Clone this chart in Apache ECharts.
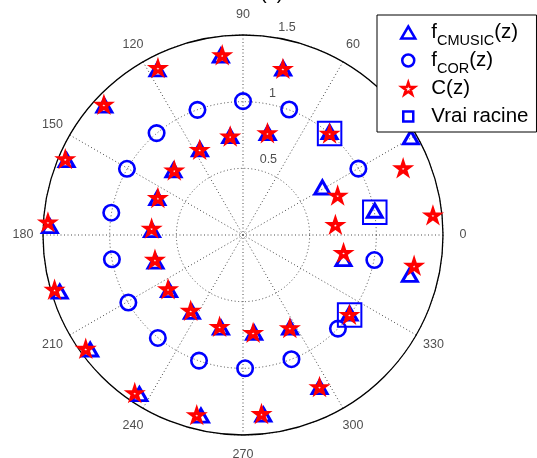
<!DOCTYPE html>
<html>
<head>
<meta charset="utf-8">
<script src="https://cdn.jsdelivr.net/npm/echarts@6/dist/echarts.min.js"></script>
<style>
  html, body { margin: 0; padding: 0; background: #fff; }
  #chart { width: 537px; height: 458px; }
</style>
</head>
<body>
<div id="chart"></div>
<script>
const FONT = '"Liberation Sans", Arial, Helvetica, sans-serif';

// Estimated roots of the CMUSIC function: radius and angle (degrees)
const cmusicRadius = [1.345, 1.388, 1.415, 1.433, 1.450, 1.442, 1.439, 1.434, 1.402, 1.366, 1.287, 1.272, 1.451, 1.289,
                      0.736, 0.775, 0.709, 0.705, 0.695, 0.683, 0.689, 0.698, 0.702, 0.725, 0.749, 0.789, 1.000, 0.688, 1.003, 0.778, 1.000];
const cmusicAngle  = [97.1, 117.5, 137.3, 157.4, 177.8, 197.6, 217.2, 237.2, 257.0, 276.4, 296.5, 76.3, 29.8, 346.1,
                      97.5, 76.2, 117.1, 137.7, 157.6, 177.9, 197.8, 217.4, 236.9, 256.8, 276.4, 296.6, 49.5, 30.1, 9.8, 345.7, 323.1];

// Roots of the correlation function
const corRadius = [1.004, 0.999, 1.002, 1.002, 1.002, 1.000, 0.998, 1.002, 0.998, 1.000, 1.000, 1.000, 1.003, 0.998, 1.003];
const corAngle  = [90, 110, 130.3, 150.3, 170.4, 190.5, 210.5, 230.4, 250.7, 270.9, 291.3, 315.4, 349.2, 29.9, 69.8];

// Roots of C(z)
const cRadius = [1.357, 1.405, 1.429, 1.449, 1.466, 1.472, 1.456, 1.437, 1.395, 1.350, 1.277, 1.281, 1.304, 1.432, 1.301,
                 0.745, 0.785, 0.716, 0.707, 0.696, 0.687, 0.686, 0.694, 0.691, 0.711, 0.738, 0.782, 1.000, 0.769, 0.697, 0.766, 0.998];
const cAngle  = [96.6, 117.0, 136.9, 156.9, 176.3, 196.2, 215.9, 235.6, 255.6, 275.9, 296.7, 76.5, 349.8, 5.9, 22.6,
                 97.4, 76.5, 117.0, 136.8, 156.5, 176.0, 195.7, 215.9, 235.4, 255.7, 275.9, 296.7, 49.5, 22.6, 6.2, 349.9, 323.1];

// True roots
const trueRadius = [1.000, 1.003, 1.000];
const trueAngle  = [49.5, 9.8, 323.1];

// Tick labels
const angleTicks  = [0, 30, 60, 90, 120, 150, 180, 210, 240, 270, 300, 330];
const radialTicks = [0.5, 1, 1.5];

const RMAX = 1.5;
const BLUE = '#0000ff';
const RED = '#ff0000';
const STAR = 'path://M0,-10L2.245,-3.09L9.511,-3.09L3.633,1.18L5.878,8.09L0,3.82L-5.878,8.09L-3.633,1.18L-9.511,-3.09L-2.245,-3.09Z';
const SMALL_SQUARE = 'path://M0,0M14,12M2,1L12,1L12,11L2,11Z';

const zip = (r, a) => r.map((v, i) => [v, a[i]]);

const triStyle  = { color: 'rgba(0,0,0,0)', borderColor: BLUE, borderWidth: 3, borderJoin: 'miter', opacity: 1 };
const circStyle = { color: 'rgba(0,0,0,0)', borderColor: BLUE, borderWidth: 2.6, opacity: 1 };
const starStyle = { color: '#ffffff', borderColor: RED, borderWidth: 3.2, borderJoin: 'miter', borderMiterLimit: 10, opacity: 1 };
const sqStyle   = { color: 'rgba(0,0,0,0)', borderColor: BLUE, borderWidth: 2, borderJoin: 'miter', opacity: 1 };

const legendNames = {
  'f_CMUSIC(z)': '{f|f}{s|CMUSIC}{m|(z)}',
  'f_COR(z)': '{f|f}{s|COR}{m|(z)}',
  'C(z)': '{p|C(z)}',
  'Vrai racine': '{p|Vrai racine}'
};

const chart = echarts.init(document.getElementById('chart'), null, { renderer: 'canvas' });

chart.setOption({
  animation: false,
  backgroundColor: '#fff',
  textStyle: { fontFamily: FONT },
  polar: { center: [243, 235], radius: 200 },
  angleAxis: {
    type: 'value', min: 0, max: 360, interval: 30,
    startAngle: 0, clockwise: false,
    axisLine: { show: true, lineStyle: { color: '#000', width: 1.3 } },
    axisTick: { show: false },
    axisLabel: { show: false },
    splitLine: { show: true, lineStyle: { color: '#4a4a4a', width: 1, type: [1, 2.5] } }
  },
  radiusAxis: {
    type: 'value', min: 0, max: RMAX, interval: 0.5,
    axisLine: { show: false },
    axisTick: { show: false },
    axisLabel: { show: false },
    splitLine: { show: true, lineStyle: { color: '#4a4a4a', width: 1, type: [1, 2.5] } }
  },
  graphic: [{
    type: 'text', left: 260, top: -17, silent: true,
    style: { text: '(z)', font: '20px ' + FONT, fill: '#000' }
  }],
  legend: {
    orient: 'vertical', left: 377, top: 15,
    padding: [2, 8, 0, 23],
    itemWidth: 14, itemHeight: 12, itemGap: -3,
    backgroundColor: '#fff', borderColor: '#000', borderWidth: 1, borderRadius: 0,
    selectedMode: false,
    data: [
      { name: 'f_CMUSIC(z)', icon: 'triangle', itemStyle: { color: 'rgba(0,0,0,0)', borderColor: BLUE, borderWidth: 2.5, borderJoin: 'miter', opacity: 1 } },
      { name: 'f_COR(z)', icon: 'circle', itemStyle: { color: 'rgba(0,0,0,0)', borderColor: BLUE, borderWidth: 2.5, opacity: 1 } },
      { name: 'C(z)', icon: STAR, itemStyle: { color: '#fff', borderColor: RED, borderWidth: 2.5, borderJoin: 'miter', opacity: 1 } },
      { name: 'Vrai racine', icon: SMALL_SQUARE, itemStyle: { color: 'rgba(0,0,0,0)', borderColor: BLUE, borderWidth: 2.5, borderJoin: 'miter', opacity: 1 } }
    ],
    formatter: name => legendNames[name],
    textStyle: {
      color: '#000', fontFamily: FONT,
      rich: {
        f: { fontSize: 20.5, lineHeight: 20, fontFamily: FONT, padding: [0, 0, 0, 11] },
        s: { fontSize: 14.5, lineHeight: 14, fontFamily: FONT, padding: [16, 0, 0, 0] },
        m: { fontSize: 20.5, lineHeight: 20, fontFamily: FONT },
        p: { fontSize: 20.5, lineHeight: 20, fontFamily: FONT, padding: [5, 0, 5, 11] }
      }
    }
  },
  series: [
    {
      name: 'f_CMUSIC(z)', type: 'scatter', coordinateSystem: 'polar', clip: false,
      symbol: 'triangle', symbolSize: [15, 13], symbolOffset: [0, -1.5],
      itemStyle: triStyle, data: zip(cmusicRadius, cmusicAngle), z: 3
    },
    {
      name: 'f_COR(z)', type: 'scatter', coordinateSystem: 'polar', clip: false,
      symbol: 'circle', symbolSize: 15.5,
      itemStyle: circStyle, data: zip(corRadius, corAngle), z: 3
    },
    {
      name: 'C(z)', type: 'scatter', coordinateSystem: 'polar', clip: false,
      symbol: STAR, symbolSize: [12.5, 11.9],
      itemStyle: starStyle, data: zip(cRadius, cAngle), z: 3
    },
    {
      name: 'Vrai racine', type: 'scatter', coordinateSystem: 'polar', clip: false,
      symbol: 'rect', symbolSize: 23.5,
      itemStyle: sqStyle, data: zip(trueRadius, trueAngle), z: 3
    },
    {
      // angle tick labels, centred just outside the outer circle
      name: 'angleLabels', type: 'scatter', coordinateSystem: 'polar', clip: false, silent: true,
      symbolSize: 1, itemStyle: { color: 'rgba(0,0,0,0)' },
      data: angleTicks.map(a => [RMAX * 1.1, a]),
      label: {
        show: true, position: 'inside', align: 'center', verticalAlign: 'middle',
        formatter: p => String(p.value[1]), fontSize: 12.5, color: '#222', fontFamily: FONT
      },
      z: 2
    },
    {
      // radial tick labels along the 82 degree direction
      name: 'radiusLabels', type: 'scatter', coordinateSystem: 'polar', clip: false, silent: true,
      symbolSize: 1, itemStyle: { color: 'rgba(0,0,0,0)' },
      data: radialTicks.map(r => [r + 0.025, 82]),
      label: {
        show: true, position: 'inside', align: 'left', verticalAlign: 'bottom',
        formatter: p => '  ' + radialTicks[p.dataIndex], fontSize: 12.5, color: '#222', fontFamily: FONT
      },
      z: 2
    }
  ]
});
</script>
</body>
</html>
